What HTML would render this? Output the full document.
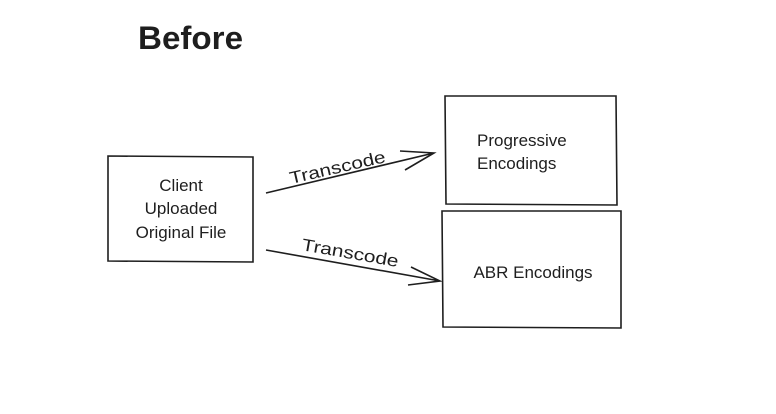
<!DOCTYPE html>
<html><head><style>
body{margin:0;width:776px;height:409px;background:#fff;overflow:hidden}
svg text{font-family:"Liberation Sans",sans-serif;fill:#1e1e1e}
</style></head><body>
<svg width="776" height="409" xmlns="http://www.w3.org/2000/svg">
<g fill="none" stroke="#1e1e1e" stroke-width="1.6">
<path d="M108,156 L253,157 L253,262 L108,261 Z"/>
<path d="M445,96 L616,96 L617,205 L446,204 Z"/>
<path d="M442,211 L621,211 L621,328 L443,327 Z"/>
<path d="M266,193 L434,153 M400,151 L434,153 L405,170"/>
<path d="M266,250 L440,281 M411,267 L440,281 L408,285"/>
</g>
<text x="138" y="49" font-size="32" font-weight="bold" textLength="105" lengthAdjust="spacingAndGlyphs">Before</text>
<text x="181" y="191" font-size="17" text-anchor="middle">Client</text>
<text x="181" y="214" font-size="17" text-anchor="middle">Uploaded</text>
<text x="181" y="238" font-size="17" text-anchor="middle">Original File</text>
<text x="477" y="146" font-size="17">Progressive</text>
<text x="477" y="169" font-size="17">Encodings</text>
<text x="533" y="278" font-size="17" text-anchor="middle">ABR Encodings</text>
<text x="0" y="0" font-size="17" textLength="98" lengthAdjust="spacingAndGlyphs" transform="translate(291,184) rotate(-13)">Transcode</text>
<text x="0" y="0" font-size="17" textLength="98" lengthAdjust="spacingAndGlyphs" transform="translate(301,250) rotate(10)">Transcode</text>
</svg>
</body></html>
